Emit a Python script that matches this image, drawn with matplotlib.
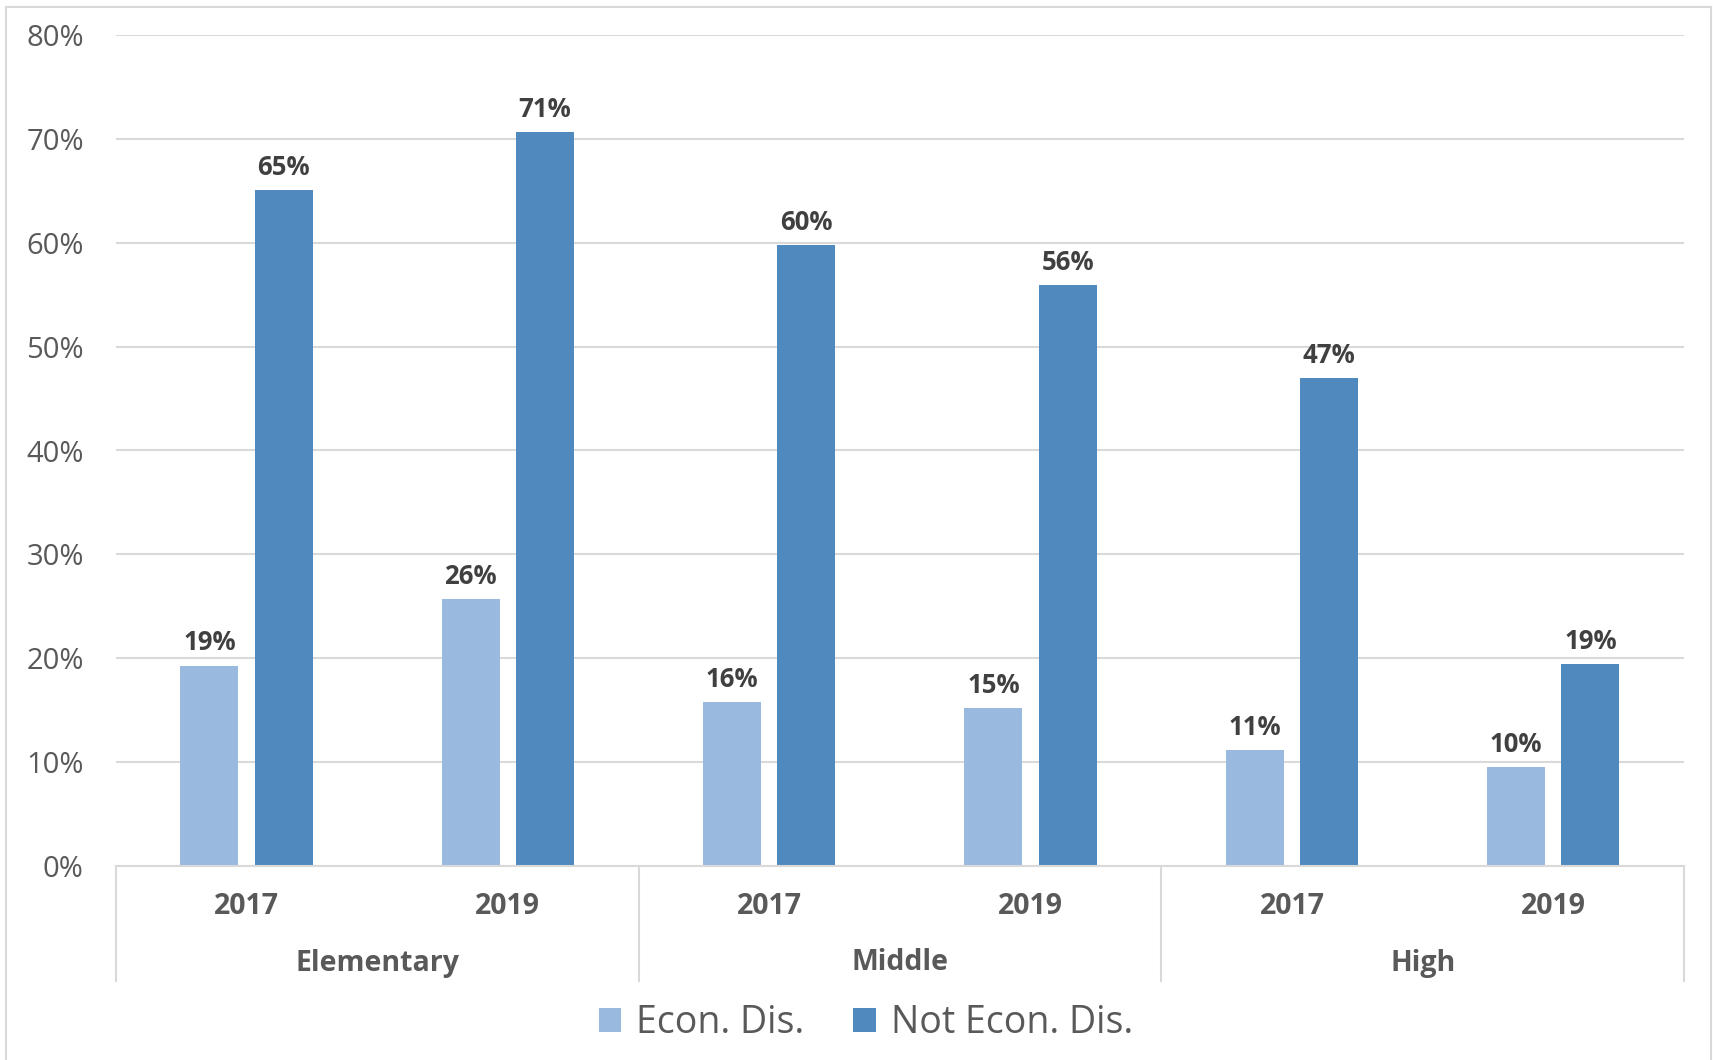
import matplotlib
matplotlib.use("Agg")
import matplotlib.pyplot as plt
from matplotlib.patches import Patch, Rectangle
from matplotlib.lines import Line2D
import numpy as np

plt.rcParams['font.family'] = ['Open Sans', 'DejaVu Sans']

# Data
groups = ["Elementary", "Middle", "High"]
years = ["2017", "2019", "2017", "2019", "2017", "2019"]
econ_dis = [19.3, 25.7, 15.8, 15.2, 11.2, 9.5]
not_econ_dis = [65.1, 70.7, 59.8, 55.9, 47.0, 19.4]
series_names = ["Econ. Dis.", "Not Econ. Dis."]
y_ticks = [0, 10, 20, 30, 40, 50, 60, 70, 80]

light = "#9AB9DF"
dark = "#4F89BD"
grid_c = "#D9D9D9"
tick_c = "#595959"
label_c = "#404040"

W, H = 1713, 1060
fig = plt.figure(figsize=(W / 100, H / 100), dpi=100)

# chart-area border (left, top, right)
fig.patches.append(Rectangle((6 / W, -0.05), (1711 - 6) / W, 1.05 - 7 / H,
                             transform=fig.transFigure, fill=False,
                             edgecolor=grid_c, linewidth=1.5))

ax_left, ax_right = 115.8 / W, 1684 / W
ax_bottom, ax_top = 1 - 866 / H, 1 - 35 / H
ax = fig.add_axes([ax_left, ax_bottom, ax_right - ax_left, ax_top - ax_bottom])

x = np.arange(len(years))
bw = 0.222
off = 0.142
b1 = ax.bar(x - off, econ_dis, bw, color=light, zorder=3)
b2 = ax.bar(x + off, not_econ_dis, bw, color=dark, zorder=3)

for bars, vals in ((b1, econ_dis), (b2, not_econ_dis)):
    for rect, v in zip(bars, vals):
        ax.annotate(f"{round(v)}%", (rect.get_x() + rect.get_width() / 2, v),
                    xytext=(0, 6.5), textcoords="offset points",
                    ha="center", va="bottom", fontsize=18.5, fontweight="bold",
                    color=label_c)

ax.set_xlim(-0.5, len(years) - 0.5)
ax.set_ylim(0, 80)
ax.set_yticks(y_ticks)
ax.set_yticklabels([f"{t}%" for t in y_ticks])
ax.tick_params(axis="y", length=0, pad=23, labelsize=21, labelcolor=tick_c)
ax.tick_params(axis="x", length=0, bottom=False, labelbottom=False)
ax.yaxis.grid(True, color=grid_c, linewidth=1.5, zorder=0)
for s in ("top", "right", "left"):
    ax.spines[s].set_visible(False)
ax.spines["bottom"].set_color(grid_c)
ax.spines["bottom"].set_linewidth(1.5)
ax.spines["bottom"].set_zorder(4)

# two-level category axis
trans = ax.get_xaxis_transform()
span = 866 - 35
sep_bottom = -(981 - 866) / span
for xs in (-0.5, 1.5, 3.5, 5.5):
    ax.add_line(Line2D([xs, xs], [0, sep_bottom], transform=trans,
                       color=grid_c, linewidth=1.5, clip_on=False))
yr_y = -(907 - 866) / span
for xi, yr in zip(x, years):
    ax.text(xi, yr_y, yr, transform=trans, ha="center", va="center",
            fontsize=20.5, fontweight="bold", color=tick_c)
grp_y = -(963 - 866) / span
for gi, g in enumerate(groups):
    ax.text(2 * gi + 0.5, grp_y, g, transform=trans, ha="center", va="center",
            fontsize=20.5, fontweight="bold", color=tick_c)

handles = [Patch(facecolor=light, edgecolor="none"),
           Patch(facecolor=dark, edgecolor="none")]
fig.legend(handles, series_names, loc="center", ncol=2,
           bbox_to_anchor=(866 / W, 1 - 1023 / H), frameon=False,
           fontsize=27, labelcolor=tick_c, handlelength=0.6,
           handleheight=0.6, handletextpad=0.4, columnspacing=1.3)

fig.savefig("out.png", dpi=100, facecolor="white")
